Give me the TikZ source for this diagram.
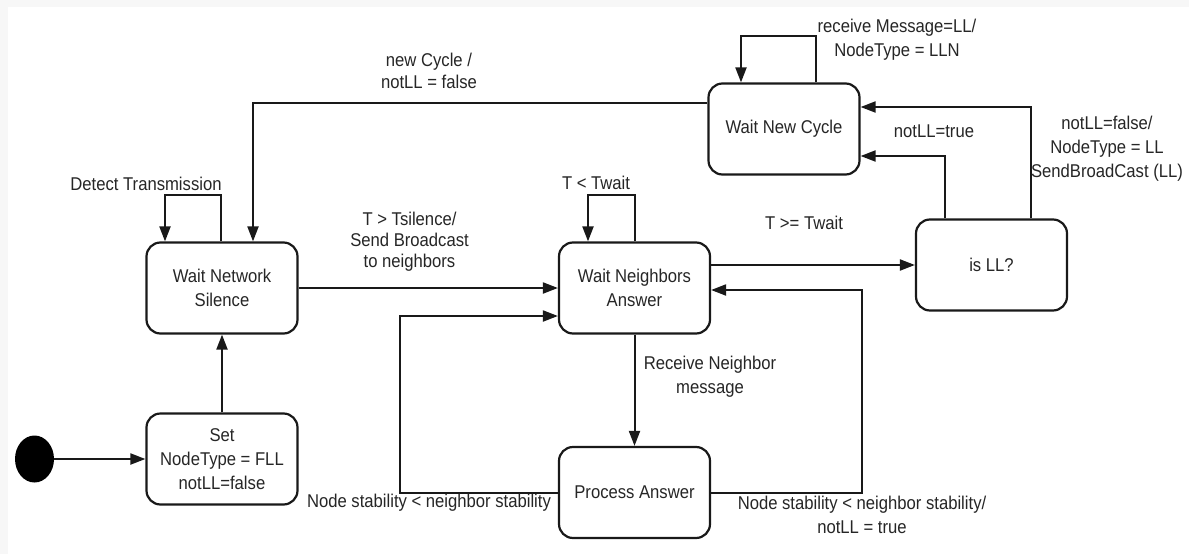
\documentclass[tikz,border=0pt]{standalone}
\usepackage{fontspec}
\setmainfont{Liberation Sans}[FakeStretch=0.9]
\usepackage{tikz}
\usetikzlibrary{arrows.meta}
\usetikzlibrary{shapes.geometric}
\definecolor{lineblack}{rgb}{0.1, 0.1, 0.1}
\definecolor{textgray}{rgb}{0.15, 0.15, 0.15}
\definecolor{bggray}{rgb}{0.97, 0.97, 0.97}
\tikzset{state/.style = {draw=lineblack, line width=2.2pt, rounded corners=14pt,
                         minimum width=151pt, minimum height=91pt, align=center,
                         text=textgray, inner sep=0pt}}
\tikzset{lbl/.style = {align=center, text=textgray, inner sep=0pt}}
\tikzset{arr/.style = {draw=lineblack, line width=2pt,
                       -{Triangle[length=15pt, width=11pt]}}}
\tikzset{startdot/.style = {fill=black, ellipse, minimum width=39pt,
                            minimum height=47pt, inner sep=0}}

\begin{document}
\begin{tikzpicture}[x=1pt, y=-1pt, font=\fontsize{18.5}{24}\selectfont]
      \useasboundingbox (0,0) rectangle (1189,554);
      \fill [bggray] (0,0) rectangle (1189,554);
      \fill [white] (8,7) rectangle (1189,554);

      % states
      \node [startdot] (start) at (34.5,459) {};
      \node [state] (set) at (222,459) {Set\\NodeType = FLL\\notLL=false};
      \node [state] (wns) at (222,288) {Wait Network\\Silence};
      \node [state] (wna) at (634.5,288) {Wait Neighbors\\Answer};
      \node [state] (pa) at (634.5,492.5) {Process Answer};
      \node [state] (wnc) at (784,129) {Wait New Cycle};
      \node [state] (isll) at (991.5,265) {is LL?};

      % transitions
      \draw [arr] (start) -- (set);
      \draw [arr] (set) -- (wns);
      \draw [arr] ([xshift=-1pt]wns.north) -- ++(0,-46) -| ([xshift=-57pt]wns.north);
      \draw [arr] ([yshift=26pt]wnc.west) -| ([xshift=31pt]wns.north);
      \draw [arr] (wns) -- (wna);
      \draw [arr] ([xshift=0.5pt]wna.north) -- ++(0,-46) -| ([xshift=-46.5pt]wna.north);
      \draw [arr] (wna) -- (pa);
      \draw [arr] (pa.west) -- ++(-158,0) |- ([yshift=-28pt]wna.west);
      \draw [arr] (pa.east) -- ++(151,0) |- ([yshift=-2pt]wna.east);
      \draw [arr] (wna.east |- isll.west) -- (isll.west);
      \draw [arr] ([xshift=-46.5pt]isll.north) |- ([yshift=-27pt]wnc.east);
      \draw [arr] ([xshift=39.5pt]isll.north) |- ([yshift=22pt]wnc.east);
      \draw [arr] ([xshift=32pt]wnc.north) -- ++(0,-46) -| ([xshift=-43pt]wnc.north);

      % labels
      \node [lbl] (lnew) at (429,71) {new Cycle /\\[-2pt]notLL = false};
      \node [lbl] (ldetect) at (146,184) {Detect Transmission};
      \node [lbl] (lsilence) at (409.5,242) {T > Tsilence/\\[-3pt]Send Broadcast\\[-3pt]to neighbors};
      \node [lbl] (ltwait) at (596,183) {T < Twait};
      \node [lbl] (lrecv) at (710,377) {Receive Neighbor\\message};
      \node [lbl] (lstabl) at (429,503) {Node stability < neighbor stability};
      \node [lbl] (lstabr) at (862,515) {Node stability < neighbor stability/\\notLL = true};
      \node [lbl] (lge) at (804,223) {T >= Twait};
      \node [lbl] (ltrue) at (934,131) {notLL=true};
      \node [lbl] (lfalse) at (1107,148.5) {notLL=false/\\NodeType = LL\\SendBroadCast (LL)};
      \node [lbl] (lmsg) at (897,39.5) {receive Message=LL/\\NodeType = LLN};
\end{tikzpicture}
\end{document}
